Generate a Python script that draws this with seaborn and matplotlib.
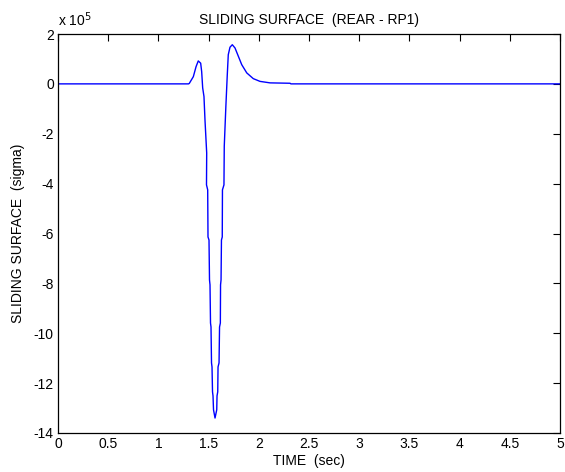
import matplotlib
matplotlib.use("Agg")
import matplotlib.pyplot as plt
import seaborn as sns
import pandas as pd

# Data (sigma in units of 1e5)
TIME = [0.0, 1.300, 1.308, 1.348, 1.375, 1.397, 1.421, 1.431, 1.441, 1.454,
        1.464, 1.481, 1.479,
        1.491, 1.494, 1.504, 1.509, 1.514, 1.519, 1.524, 1.529, 1.534, 1.539,
        1.544, 1.549, 1.564, 1.581, 1.584, 1.591, 1.594, 1.604, 1.609, 1.617,
        1.619, 1.624, 1.628, 1.636, 1.638, 1.653, 1.656, 1.672, 1.686, 1.696,
        1.713, 1.736, 1.763, 1.796, 1.830, 1.880, 1.945, 2.012, 2.112, 2.311,
        2.32, 5.0]
SIGMA_E5 = [0.0, 0.0, 0.02, 0.29, 0.69, 0.92, 0.83, 0.49, -0.16, -0.51,
            -1.45, -2.77, -4.05,
            -4.25, -6.14, -6.26, -7.86, -8.06, -9.59, -9.75, -11.19, -11.35, -12.35,
            -12.51, -13.07, -13.40, -13.07, -12.51, -12.35, -11.35, -11.19, -9.75, -9.59,
            -8.06, -7.86, -6.26, -6.14, -4.25, -4.05, -2.5, -0.9, 0.36, 1.17,
            1.47, 1.57, 1.44, 1.11, 0.77, 0.44, 0.21, 0.10, 0.04, 0.025,
            0.0, 0.0]
X_TICKS = [0, 0.5, 1, 1.5, 2, 2.5, 3, 3.5, 4, 4.5, 5]
X_TICK_LABELS = ["0", "0.5", "1", "1.5", "2", "2.5", "3", "3.5", "4", "4.5", "5"]
Y_TICKS = [-14, -12, -10, -8, -6, -4, -2, 0, 2]
Y_TICK_LABELS = ["-14", "-12", "-10", "-8", "-6", "-4", "-2", "0", "2"]

sns.set_style("white")
plt.rcParams['font.family'] = ['Liberation Sans', 'DejaVu Sans']
plt.rcParams['text.color'] = 'black'
plt.rcParams['axes.labelcolor'] = 'black'

df = pd.DataFrame({"t": TIME, "s": SIGMA_E5})

fig = plt.figure(figsize=(5.65, 4.72), dpi=100)
ax = fig.add_axes([58/565, 39/472, 502/565, 399/472])
sns.lineplot(data=df, x="t", y="s", ax=ax, color=(0, 0, 1), linewidth=1.0,
             sort=False, estimator=None)

ax.set_xlim(0, 5)
ax.set_ylim(-14, 2)
ax.set_xticks(X_TICKS)
ax.set_xticklabels(X_TICK_LABELS)
ax.set_yticks(Y_TICKS)
ax.set_yticklabels(Y_TICK_LABELS)
ax.tick_params(direction="in", length=5, width=0.8, top=True, right=True,
               labelsize=10, colors="black", pad=3)
for sp in ax.spines.values():
    sp.set_visible(True)
    sp.set_color("black")
    sp.set_linewidth(0.9)

ax.set_xlabel("TIME  (sec)", fontsize=10, labelpad=2, color="black")
ax.set_ylabel("SLIDING SURFACE  (sigma)", fontsize=10, labelpad=6, color="black")
ax.set_title("SLIDING SURFACE  (REAR - RP1)", fontsize=10, pad=7, color="black")
ax.text(0.0, 1.012, r"x 10$^{5}$", transform=ax.transAxes, fontsize=10,
        ha="left", va="bottom", color="black")

fig.savefig("out.png", dpi=100)
